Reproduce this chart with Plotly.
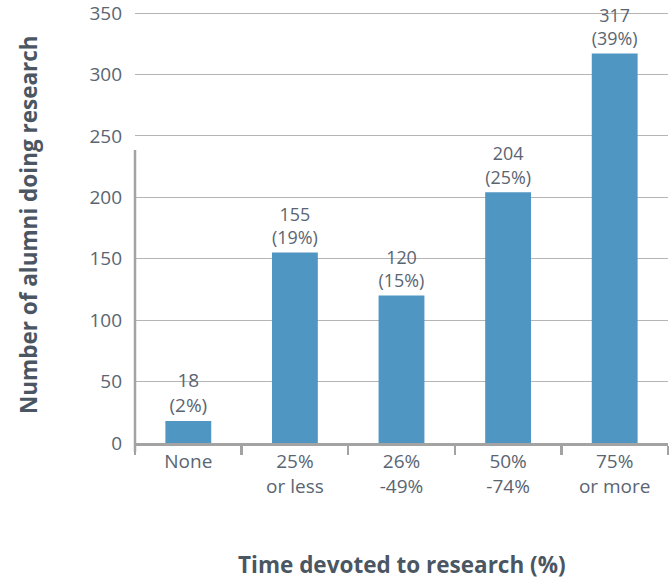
import plotly.graph_objects as go

categories = ["None", "25%<br>or less", "26%<br>-49%", "50%<br>-74%", "75%<br>or more"]
counts = [18, 155, 120, 204, 317]
percents = ["2%", "19%", "15%", "25%", "39%"]

y_ticks = [0, 50, 100, 150, 200, 250, 300, 350]
y_max = 350

W, H = 670, 579
# plot area: x 135..668, value 350 at y=13, value 0 at y=443
PAD = 2  # a little room above the top gridline so it is drawn
L, R, T, B = 135, 2, 13 - PAD, 136
pw = W - L - R
ph = H - T - B
y_top = y_max * ph / (ph - PAD)

bar_color = "#4F96C3"
text_color = "#5A6572"
axis_color = "#A3A3A3"
title_color = "#4B5663"

fig = go.Figure()
fig.add_trace(go.Bar(
    x=categories, y=counts,
    customdata=percents,
    marker=dict(color=bar_color, line=dict(width=0)),
    texttemplate="%{y}<br>(%{customdata})",
    textposition="outside",
    textfont=dict(family="Open Sans", size=19, color=text_color),
    cliponaxis=False,
    hoverinfo="skip",
))

fig.update_layout(
    width=W, height=H,
    margin=dict(l=L, r=R, t=T, b=B, autoexpand=False),
    paper_bgcolor="white", plot_bgcolor="white",
    bargap=0.57,
    showlegend=False,
    font=dict(family="Open Sans", size=19, color=text_color),
)
fig.update_xaxes(
    showline=True, linecolor=axis_color, linewidth=2.5,
    ticks="outside", tickson="boundaries", ticklen=9, tickwidth=2.5, tickcolor=axis_color,
    tickfont=dict(family="Open Sans", size=19, color=text_color),
    showgrid=False, automargin=False,
)
fig.update_yaxes(
    range=[0, y_top], tickvals=y_ticks,
    showline=False, zeroline=False,
    showgrid=True, gridcolor="#B5B5B5", gridwidth=1,
    tickfont=dict(family="Open Sans", size=19, color=text_color),
    ticklabelstandoff=12,
    ticklabeloverflow="allow",
    automargin=False,
)
# partial y-axis line as in the reference
fig.add_shape(type="line", xref="paper", yref="paper",
              x0=0, x1=0, y0=-9 / ph, y1=(443 - 150) / ph,
              line=dict(color=axis_color, width=2.5))

fig.add_annotation(text="<b>Time devoted to research (%)</b>", xref="paper", yref="paper",
                   x=0.5, y=-(564 - 443) / ph, xanchor="center", yanchor="middle",
                   showarrow=False, font=dict(family="Open Sans", size=22.5, color=title_color))
fig.add_annotation(text="<b>Number of alumni doing research</b>", xref="paper", yref="paper",
                   x=(28 - L) / pw, y=(443 - 225) / ph, xanchor="center", yanchor="middle",
                   textangle=-90,
                   showarrow=False, font=dict(family="Open Sans", size=22.5, color=title_color))

fig.write_html("out.html", config={"displayModeBar": False, "staticPlot": True},
               post_script="document.body.style.margin='0';")
